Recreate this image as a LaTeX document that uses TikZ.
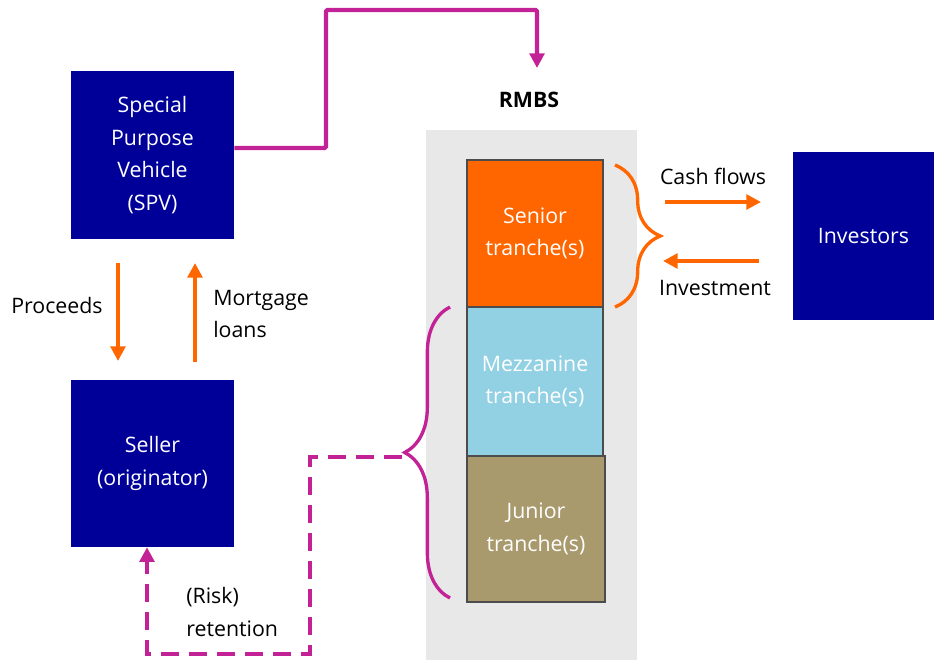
\documentclass[tikz,border=0pt]{standalone}
\usepackage{fontspec}
\setmainfont{Open Sans}
\usetikzlibrary{arrows.meta,decorations.pathreplacing}
\definecolor{navy}{RGB}{0,0,153}
\definecolor{ingorange}{RGB}{255,102,0}
\definecolor{magent}{RGB}{194,34,150}
\definecolor{lblue}{RGB}{146,208,228}
\definecolor{tan}{RGB}{169,154,110}
\definecolor{bggray}{RGB}{232,232,232}
\tikzset{
  txt/.style={font=\fontsize{16}{24.5}\selectfont, align=center, inner sep=0pt},
  navybox/.style={txt, fill=navy, text=white, draw=none},
  tranche/.style={txt, draw=black!70, line width=0.8pt, text=white, minimum width=102pt},
  orarrow/.style={draw=ingorange, line width=3pt, -{Triangle[width=11pt,length=11pt]}},
  magarrow/.style={draw=magent, line width=3.2pt, -{Triangle[width=11pt,length=11pt]}},
  bracestyle/.style={line width=2.5pt, decorate, decoration={brace, amplitude=34pt}},
}
\begin{document}
\begin{tikzpicture}[x=0.75pt,y=-0.75pt]
\useasboundingbox (0,0) rectangle (934,660);
% grey background of RMBS
\fill[bggray] (426,130) rectangle (637,660);
\node[txt, font=\fontsize{16}{24.5}\selectfont\bfseries] (rmbs) at (529,100) {RMBS};
% boxes
\node[navybox, minimum width=122.25pt, minimum height=126pt] (spv) at (152.5,155) {Special\\Purpose\\Vehicle\\(SPV)};
\node[navybox, minimum width=122.25pt, minimum height=125.25pt] (seller) at (152.5,463.5) {Seller\\(originator)};
\node[navybox, minimum width=105.75pt, minimum height=126pt] (inv) at (863.5,236) {Investors};
\node[tranche, fill=ingorange, minimum height=110.25pt] (senior) at (535,233.5) {Senior\\tranche(s)};
\node[tranche, fill=lblue, minimum height=111.75pt] (mezz) at (535,381.5) {Mezzanine\\tranche(s)};
\node[tranche, fill=tan, minimum width=103.5pt, minimum height=109.5pt] (junior) at (536,529) {Junior\\tranche(s)};
% SPV -> RMBS
\coordinate (rmbstop) at (537,68);
\draw[magarrow, rounded corners=1pt] (spv.east |- 0,148) -- (326,148) -- (326,10) -- (537,10) -- (rmbstop);
% proceeds / mortgage loans
\draw[orarrow] (118,263) -- (118,361);
\draw[orarrow] (195,362) -- (195,263);
\node[txt] (proceeds) at (57,305) {Proceeds};
\node[txt, anchor=west, align=left] (mort) at (213,314) {Mortgage\\loans};
% cash flows / investment
\draw[orarrow] (665,202) -- (761,202);
\draw[orarrow] (759,261) -- (663,261);
\node[txt] (cf) at (713,176) {Cash flows};
\node[txt] (invest) at (715,288) {Investment};
% braces
\draw[bracestyle, draw=ingorange] (615,165) -- (615,307);
\draw[bracestyle, draw=magent] (450,598) -- (450,307);
\coordinate (mbtip) at (402,457);
% risk retention
\draw[magarrow, dash pattern=on 13.5pt off 7.5pt] (mbtip) -- (310,457) -- (310,654) -- (147,654) -- (seller.south -| 147,0);
\node[txt, anchor=west, align=left] (risk) at (186,612) {(Risk)\\retention};
\end{tikzpicture}
\end{document}
